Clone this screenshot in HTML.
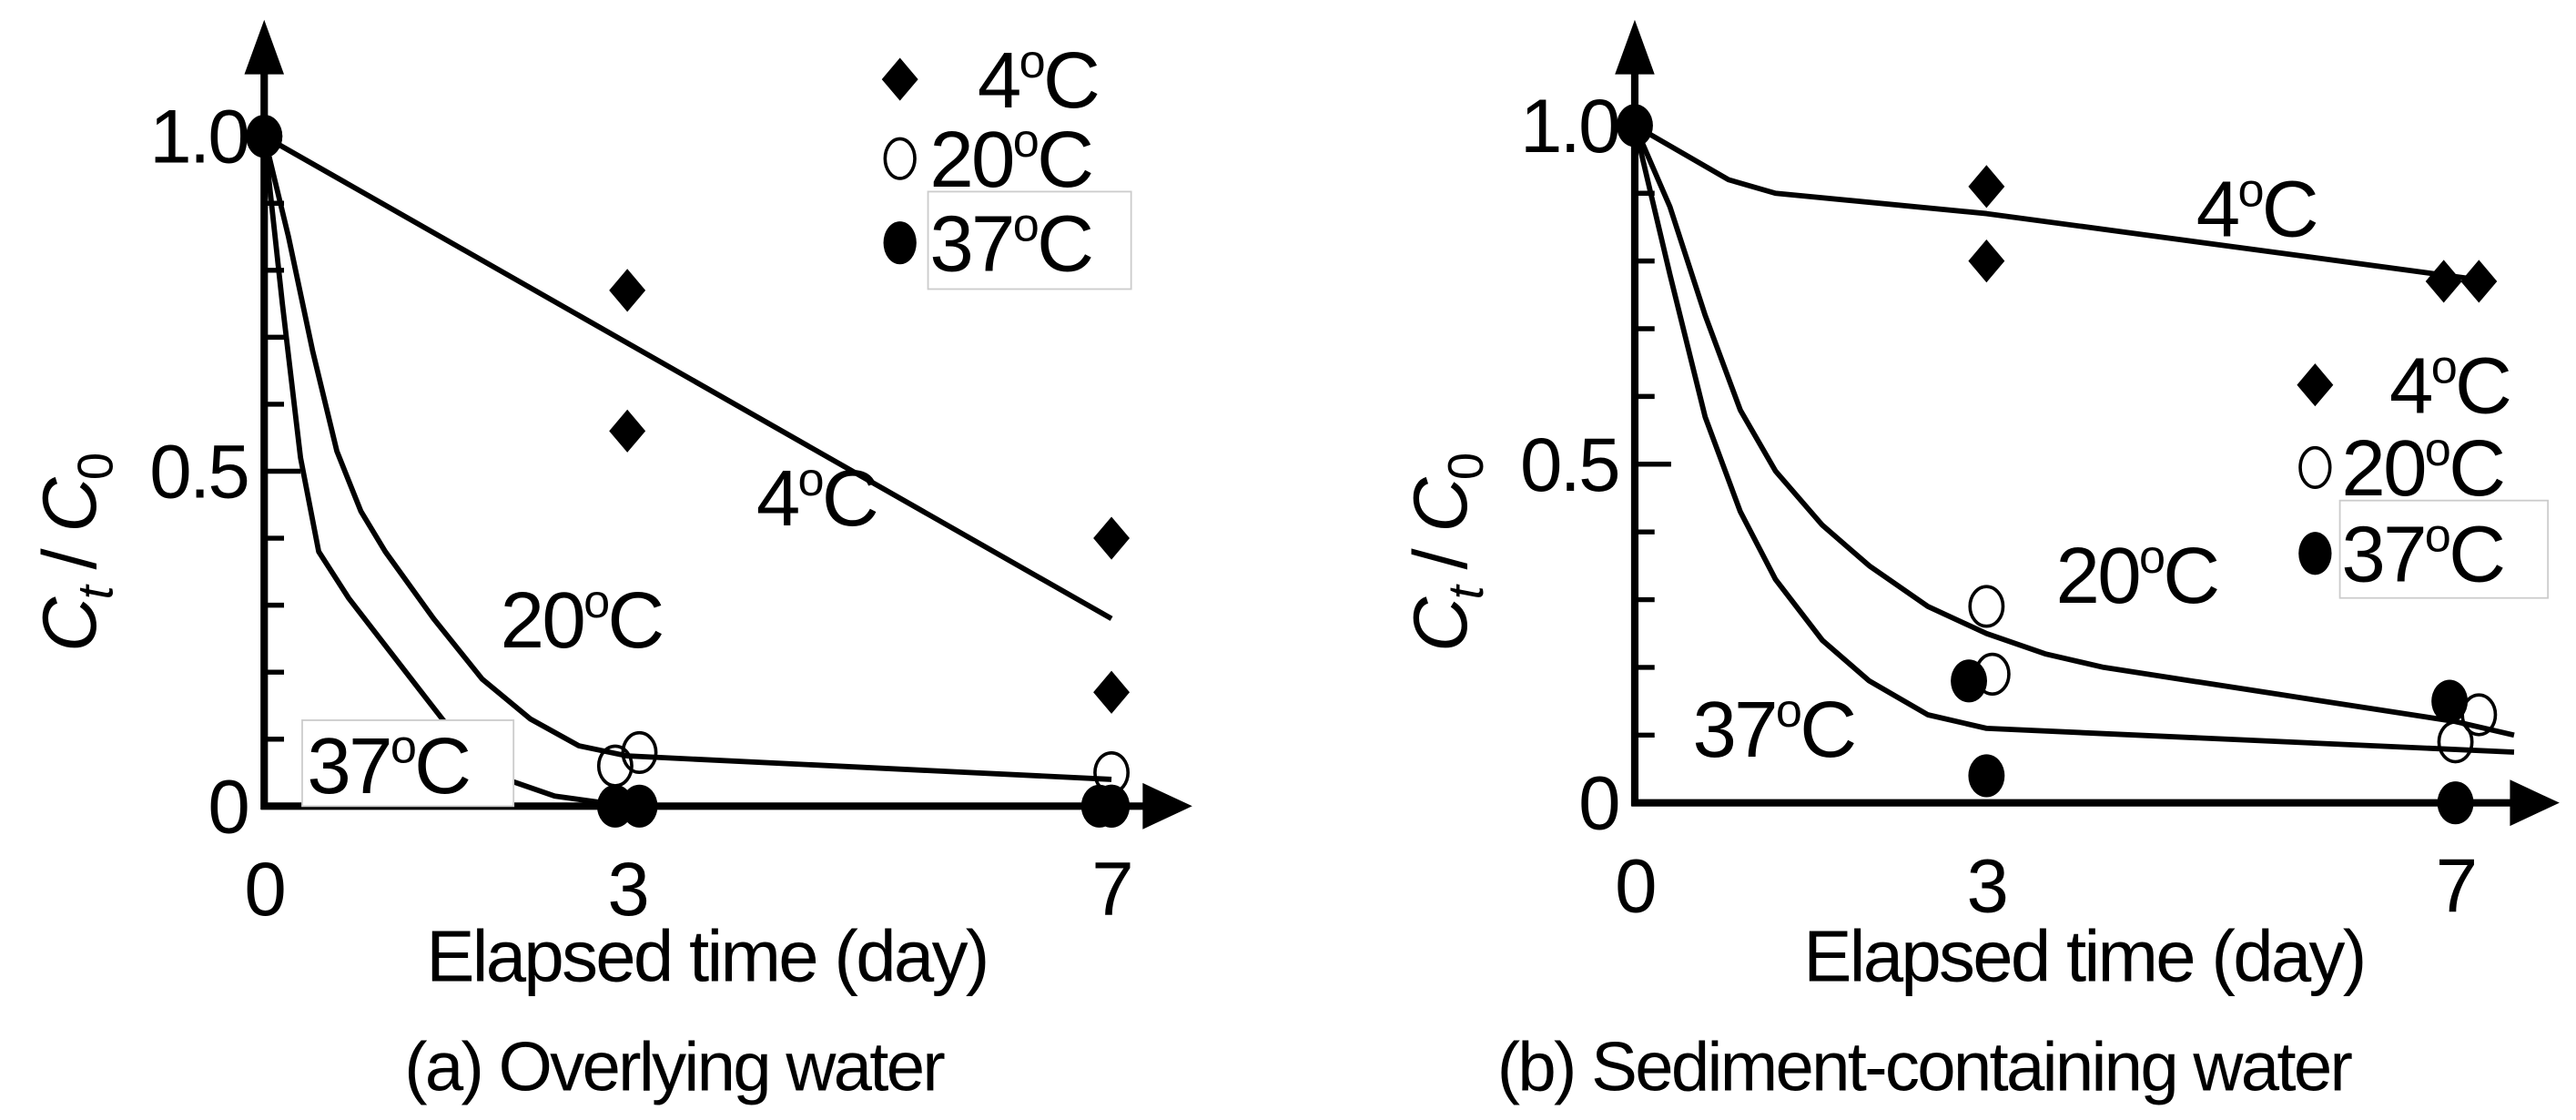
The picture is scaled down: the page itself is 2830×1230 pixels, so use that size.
<!DOCTYPE html>
<html><head><meta charset="utf-8"><style>
html,body{margin:0;padding:0;background:#fff;}
svg{display:block;}
text{font-family:"Liberation Sans",Arial,sans-serif;fill:#000;letter-spacing:-1.5px;}
</style></head><body>
<svg id="fig" width="2830" height="1230" viewBox="0 0 1560 678" preserveAspectRatio="none" xmlns="http://www.w3.org/2000/svg">
<g id="pa"></g>
<g id="pb"></g>
</svg>
<script>
// ---- data ----
const xTicks = [0, 3, 7];
const yTickLabels = ["0", "0.5", "1.0"];
const yTickValues = [0, 0.5, 1.0];
// panel a points
const a4x = [0, 3, 3, 7, 7];
const a4y = [1.0, 0.77, 0.56, 0.40, 0.17];
const a20x = [0, 2.9, 3.1, 7, 7];
const a20y = [1.0, 0.06, 0.08, 0.05, 0.0];
const a37x = [0, 2.9, 3.1, 6.9, 7.0];
const a37y = [1.0, 0.0, 0.0, 0.0, 0.0];
// panel a fitted lines
const a4Lx = [0, 7];
const a4Ly = [1.0, 0.28];
const a20Lx = [0, 0.2, 0.4, 0.6, 0.8, 1.0, 1.4, 1.8, 2.2, 2.6, 3.0, 7.0];
const a20Ly = [1.0, 0.85, 0.68, 0.53, 0.44, 0.38, 0.28, 0.19, 0.13, 0.09, 0.075, 0.04];
const a37Lx = [0, 0.15, 0.3, 0.45, 0.7, 1.0, 1.3, 1.6, 2.0, 2.4, 2.8, 3.0];
const a37Ly = [1.0, 0.75, 0.52, 0.38, 0.31, 0.24, 0.17, 0.10, 0.04, 0.015, 0.005, 0.0];
// panel b points
const b4x = [0, 3, 3, 6.9, 7.2];
const b4y = [1.0, 0.91, 0.80, 0.77, 0.77];
const b20x = [3, 3.05, 7.0, 7.2];
const b20y = [0.29, 0.19, 0.09, 0.13];
const b37x = [0, 2.85, 3.0, 6.95, 7.0];
const b37y = [1.0, 0.18, 0.04, 0.15, 0.0];
// panel b fitted lines
const b4Lx = [0, 0.4, 0.8, 1.2, 3.0, 7.3];
const b4Ly = [1.0, 0.96, 0.92, 0.90, 0.87, 0.77];
const b20Lx = [0, 0.3, 0.6, 0.9, 1.2, 1.6, 2.0, 2.5, 3.0, 3.5, 4.0, 5.5, 7.0, 7.5];
const b20Ly = [1.0, 0.88, 0.72, 0.58, 0.49, 0.41, 0.35, 0.29, 0.25, 0.22, 0.20, 0.16, 0.12, 0.10];
const b37Lx = [0, 0.3, 0.6, 0.9, 1.2, 1.6, 2.0, 2.5, 3.0, 7.5];
const b37Ly = [1.0, 0.78, 0.57, 0.43, 0.33, 0.24, 0.18, 0.13, 0.11, 0.075];

const NS = "http://www.w3.org/2000/svg";
function mk(tag, attrs, parent){ const e=document.createElementNS(NS,tag); for(const k in attrs) e.setAttribute(k,attrs[k]); parent.appendChild(e); return e; }

function degText(parent, x, y, num, size, name){
  const t = mk("text",{x:x,y:y,"font-size":size},parent);
  
  
  t.appendChild(document.createTextNode(num));
  const s = mk("tspan",{"font-size":size*0.6,dy:-size*0.38},t); s.textContent="o";
  const c = mk("tspan",{dy:size*0.38},t); c.textContent="C";
  return t;
}

function panel(g, cfg){
  const X = v => cfg.x0 + v*cfg.dx;
  const Y = v => cfg.y0 - v*cfg.dy;
  const ya = mk("line",{x1:X(0),y1:Y(0)+2,x2:X(0),y2:40,stroke:"#000","stroke-width":4.5},g);
  
  
  const yarr = mk("polygon",{points:`${X(0)-12},45 ${X(0)+12},45 ${X(0)},12`,fill:"#000"},g);
  
  
  const xa = mk("line",{x1:X(0)-2,y1:Y(0),x2:cfg.xEnd-20,y2:Y(0),stroke:"#000","stroke-width":4.5},g);
  
  
  const xarr = mk("polygon",{points:`${cfg.xEnd-30},${Y(0)-14} ${cfg.xEnd-30},${Y(0)+14} ${cfg.xEnd},${Y(0)}`,fill:"#000"},g);
  
  
  for(let i=1;i<=9;i++){
    const tk = mk("line",{x1:X(0),y1:Y(i/10),x2:X(0)+(i==5?22:12),y2:Y(i/10),stroke:"#000","stroke-width":3},g);
    
    
  }
  yTickValues.forEach((v,i)=>{
    const t = mk("text",{x:X(0)-10,y:Y(v)+16,"font-size":46,"text-anchor":"end"},g);
    
    
    t.textContent = yTickLabels[i];
  });
  xTicks.forEach(v=>{
    const t = mk("text",{x:X(v),y:Y(0)+66,"font-size":46,"text-anchor":"middle"},g);
    
    
    t.textContent = String(v);
  });
  const xt = mk("text",{x:cfg.xTitleX,y:594,"font-size":44,"text-anchor":"middle"},g);
  
  
  xt.textContent = "Elapsed time (day)";
  const cap = mk("text",{x:cfg.capX,y:660,"font-size":42,"text-anchor":"middle"},g);
  
  
  cap.textContent = cfg.caption;
  const yt = mk("text",{transform:`translate(${cfg.yTitleX},335) rotate(-90)`,"font-size":46,"text-anchor":"middle"},g);
  
  
  const c1 = mk("tspan",{"font-style":"italic"},yt); c1.textContent="C";
  const s1 = mk("tspan",{"font-style":"italic","font-size":30,dy:10},yt); s1.textContent="t";
  const sl = mk("tspan",{dy:-10},yt); sl.textContent=" / ";
  const c2 = mk("tspan",{"font-style":"italic"},yt); c2.textContent="C";
  const s2 = mk("tspan",{"font-size":30,dy:10},yt); s2.textContent="0";

  cfg.lines.forEach(L=>{
    const d = L.xs.map((v,i)=>(i?"L":"M")+X(v).toFixed(1)+","+Y(L.ys[i]).toFixed(1)).join(" ");
    const p = mk("path",{d:d,fill:"none",stroke:"#000","stroke-width":3.2,"stroke-linejoin":"round"},g);
    
    
  });
  cfg.labels.forEach(lb=>{
    if(lb.box){
      const r = mk("rect",{x:lb.box[0],y:lb.box[1],width:lb.box[2],height:lb.box[3],fill:"#fff",stroke:"#ccc","stroke-width":1},g);
      
      
    }
    degText(g, lb.x, lb.y, lb.num, 48, lb.name);
  });
  cfg.points.forEach(P=>{
    P.xs.forEach((v,i)=>{
      let e;
      if(P.kind==="d"){
        const cx=X(v), cy=Y(P.ys[i]);
        e = mk("polygon",{points:`${cx},${cy-13} ${cx+11},${cy} ${cx},${cy+13} ${cx-11},${cy}`,fill:"#000"},g);
      } else if(P.kind==="o"){
        e = mk("ellipse",{cx:X(v),cy:Y(P.ys[i]),rx:10,ry:12,fill:"none",stroke:"#000","stroke-width":2},g);
      } else {
        e = mk("ellipse",{cx:X(v),cy:Y(P.ys[i]),rx:11,ry:13,fill:"#000"},g);
      }
      
      
    });
  });
  const L = cfg.legend;
  if(L.box){
    const r = mk("rect",{x:L.box[0],y:L.box[1],width:L.box[2],height:L.box[3],fill:"#fff",stroke:"#ccc","stroke-width":1},g);
    
    
  }
  const m1 = mk("polygon",{points:`${L.mx},${L.y[0]-30} ${L.mx+11},${L.y[0]-17} ${L.mx},${L.y[0]-4} ${L.mx-11},${L.y[0]-17}`,fill:"#000"},g);
  
  
  const m2 = mk("ellipse",{cx:L.mx,cy:L.y[1]-17,rx:9,ry:12,fill:"none",stroke:"#000","stroke-width":2},g);
  
  
  const m3 = mk("ellipse",{cx:L.mx,cy:L.y[2]-17,rx:10,ry:13,fill:"#000"},g);
  
  
  degText(g, L.tx+29, L.y[0], "4", 48, 'legend-entry-4c');
  degText(g, L.tx, L.y[1], "20", 48, 'legend-entry-20c');
  degText(g, L.tx, L.y[2], "37", 48, 'legend-entry-37c');
}

panel(document.getElementById("pa"),{
  x0:160, dx:73.3, y0:488, dy:405.5, xEnd:722, xTitleX:428, capX:408, yTitleX:58,
  caption:"(a) Overlying water",
  lines:[{xs:a4Lx,ys:a4Ly,name:"fit-line-4c"},{xs:a20Lx,ys:a20Ly,name:"fit-line-20c"},{xs:a37Lx,ys:a37Ly,name:"fit-line-37c"}],
  labels:[{x:458,y:318,num:"4",name:"curve-label-4c"},{x:303,y:392,num:"20",name:"curve-label-20c"},{x:186,y:480,num:"37",name:"curve-label-37c",box:[183,436,128,52]}],
  points:[{xs:a4x,ys:a4y,kind:"d",name:"point-4c"},{xs:a37x,ys:a37y,kind:"f",name:"point-37c"},{xs:a20x,ys:a20y,kind:"o",name:"point-20c"}],
  legend:{mx:545,tx:563,y:[65,113,164],box:[562,116,123,59]}
});
panel(document.getElementById("pb"),{
  x0:990, dx:71, y0:486, dy:410, xEnd:1550, xTitleX:1262, capX:1165, yTitleX:888,
  caption:"(b) Sediment-containing water",
  lines:[{xs:b4Lx,ys:b4Ly,name:"fit-line-4c"},{xs:b20Lx,ys:b20Ly,name:"fit-line-20c"},{xs:b37Lx,ys:b37Ly,name:"fit-line-37c"}],
  labels:[{x:1330,y:143,num:"4",name:"curve-label-4c"},{x:1245,y:365,num:"20",name:"curve-label-20c"},{x:1025,y:458,num:"37",name:"curve-label-37c"}],
  points:[{xs:b4x,ys:b4y,kind:"d",name:"point-4c"},{xs:b37x,ys:b37y,kind:"f",name:"point-37c"},{xs:b20x,ys:b20y,kind:"o",name:"point-20c"}],
  legend:{mx:1402,tx:1418,y:[250,300,352],box:[1417,303,126,59]}
});
</script>
</body></html>
